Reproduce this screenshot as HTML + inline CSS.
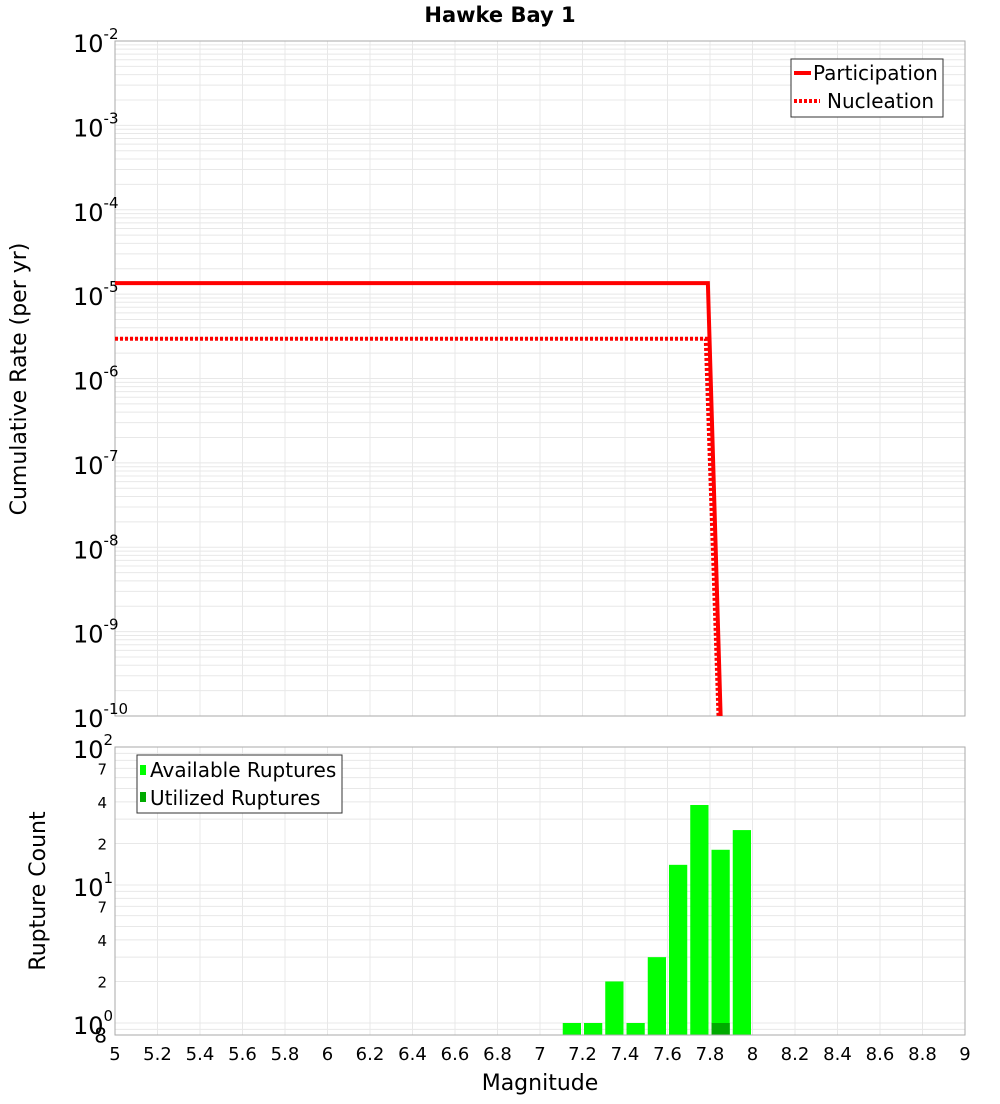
<!DOCTYPE html>
<html><head><meta charset="utf-8"><style>
body{margin:0;background:#fff;font-family:"DejaVu Sans","Liberation Sans",sans-serif}
svg text{font-family:"DejaVu Sans","Liberation Sans",sans-serif}
</style></head><body>
<svg id="c" width="1000" height="1100" xmlns="http://www.w3.org/2000/svg">
<text x="500" y="22" text-anchor="middle" font-size="21" font-weight="bold">Hawke Bay 1</text>
<g id="topg"></g>
<g id="botg"></g>
<text transform="translate(26,379) rotate(-90)" text-anchor="middle" font-size="22">Cumulative Rate (per yr)</text>
<text transform="translate(45,891) rotate(-90)" text-anchor="middle" font-size="22">Rupture Count</text>
<text x="540" y="1090" text-anchor="middle" font-size="22">Magnitude</text>
<g>
<rect x="791" y="59" width="152" height="58" fill="#fff" stroke="#333"/>
<line x1="794" y1="73" x2="811" y2="73" stroke="#f00" stroke-width="4"/>
<text x="813" y="80" font-size="20">Participation</text>
<line x1="794" y1="101" x2="820" y2="101" stroke="#f00" stroke-width="4" stroke-dasharray="3,2"/>
<text x="827" y="108" font-size="20">Nucleation</text>
</g>
<g>
<rect x="137" y="755" width="205" height="58" fill="#fff" stroke="#333"/>
<rect x="140" y="765" width="6" height="10" fill="#00ff00"/>
<text x="150" y="777" font-size="20">Available Ruptures</text>
<rect x="140" y="792" width="6" height="10" fill="#00aa00"/>
<text x="150" y="805" font-size="20">Utilized Ruptures</text>
</g>
</svg>
<script>
const magTicks=[5,5.2,5.4,5.6,5.8,6,6.2,6.4,6.6,6.8,7,7.2,7.4,7.6,7.8,8,8.2,8.4,8.6,8.8,9];
const partMags=[5,7.79,7.85];
const partRates=[1.35e-5,1.35e-5,1e-10];
const nuclMags=[5,7.78,7.84];
const nuclRates=[2.96e-6,2.96e-6,1e-10];
const binCenters=[7.15,7.25,7.35,7.45,7.55,7.65,7.75,7.85,7.95];
const availCounts=[1,1,2,1,3,14,38,18,25];
const usedCounts=[0,0,0,0,0,0,0,1,0];
const NS="http://www.w3.org/2000/svg";
const L=115,R=965;
const X=m=>L+(m-5)/(9-5)*(R-L);
const T0=41,T1=716;
const Yt=v=>T1-(Math.log10(v)+10)/8*(T1-T0);
const B0=747,B1=1035;
const Yb=v=>1023-Math.log10(v)*138;
function el(p,t,a){const e=document.createElementNS(NS,t);for(const k in a)e.setAttribute(k,a[k]);p.appendChild(e);return e;}
const topG=document.getElementById('topg'),botG=document.getElementById('botg');
for(let d=-10;d<-2;d++)for(let k=1;k<10;k++){const y=Yt(k*Math.pow(10,d));if(y<T0)continue;
 const g=el(topG,'line',{x1:L,x2:R,y1:y,y2:y,stroke:'#e8e8e8','stroke-width':1});
 
 }
magTicks.forEach(m=>{const g=el(topG,'line',{x1:X(m),x2:X(m),y1:T0,y2:T1,stroke:'#e8e8e8'});
 
 });
el(topG,'rect',{x:L,y:T0,width:R-L,height:T1-T0,fill:'none',stroke:'#aaa'});
for(let d=-10;d<=-2;d++){const y=Yt(Math.pow(10,d));
 const t=el(topG,'text',{x:73,y:y+11,'font-size':24});
 
 
 t.textContent='10';const s=el(t,'tspan',{dy:-13,'font-size':15});s.textContent=String(d);}
function path(ms,vs){return ms.map((m,i)=>(i?'L':'M')+X(m)+','+Math.min(Yt(vs[i]),T1+20)).join('');}
const cp=el(topG,'clipPath',{id:'cl'});el(cp,'rect',{x:L,y:T0,width:R-L,height:T1-T0});
const pl=el(topG,'path',{d:path(partMags,partRates),fill:'none',stroke:'#f00','stroke-width':4,'clip-path':'url(#cl)'});


const nl=el(topG,'path',{d:path(nuclMags,nuclRates),fill:'none',stroke:'#f00','stroke-width':4,'stroke-dasharray':'3,2','clip-path':'url(#cl)'});


for(let d=-1;d<2;d++)for(let k=1;k<10;k++){const y=Yb(k*Math.pow(10,d));if(y>B1||y<B0)continue;
 const g=el(botG,'line',{x1:L,x2:R,y1:y,y2:y,stroke:'#e8e8e8'});
 
 }
magTicks.forEach(m=>{const g=el(botG,'line',{x1:X(m),x2:X(m),y1:B0,y2:B1,stroke:'#e8e8e8'});
 
 });
const bw=X(5.1)-X(5)-3;
binCenters.forEach((m,i)=>{
 const b=el(botG,'rect',{x:X(m)-bw/2,y:Yb(availCounts[i]),width:bw,height:B1-Yb(availCounts[i]),fill:'#00ff00'});
 
 
 if(usedCounts[i]>0){const u=el(botG,'rect',{x:X(m)-bw/2,y:Yb(usedCounts[i]),width:bw,height:B1-Yb(usedCounts[i]),fill:'#00aa00'});
 
 }});
el(botG,'rect',{x:L,y:B0,width:R-L,height:B1-B0,fill:'none',stroke:'#aaa'});
[0,1,2].forEach(d=>{const y=Yb(Math.pow(10,d));
 const t=el(botG,'text',{x:73,y:y+11,'font-size':24});
 
 
 t.textContent='10';const s=el(t,'tspan',{dy:-13,'font-size':15});s.textContent=String(d);});
const minor=[[2,'2'],[4,'4'],[7,'7'],[20,'2'],[40,'4'],[70,'7'],[0.8,'8']];
minor.forEach(([v,l])=>{const t=el(botG,'text',{x:107,y:Yb(v)+6,'text-anchor':'end','font-size':l==='8'&&v<1?20:15});
 
 
 t.textContent=l;});
magTicks.forEach(m=>{const t=el(botG,'text',{x:X(m),y:1060,'text-anchor':'middle','font-size':18});
 
 
 t.textContent=String(m);});
</script>
</body></html>
